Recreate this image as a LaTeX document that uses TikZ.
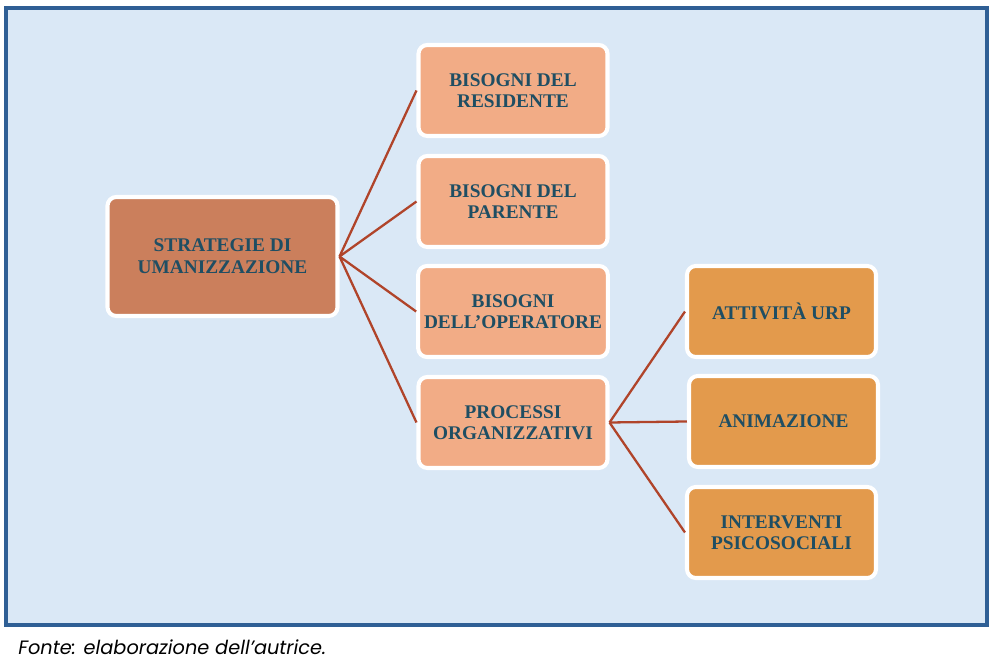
\documentclass[tikz,border=0pt]{standalone}
\usepackage{fontspec}
\setmainfont{Liberation Serif}
\newfontfamily\captionfont{Poppins}
\usetikzlibrary{positioning}

\definecolor{framebg}{HTML}{DAE8F6}
\definecolor{frameline}{HTML}{2F5F95}
\definecolor{rootfill}{HTML}{CB7F5C}
\definecolor{needfill}{HTML}{F2AC86}
\definecolor{procfill}{HTML}{E39A4C}
\definecolor{boxtext}{HTML}{1F4E63}
\definecolor{linkline}{HTML}{B0442A}

\begin{document}
\begin{tikzpicture}[
  root/.style={draw=white,line width=2.3pt,fill=rootfill,rounded corners=5pt,
    align=center,minimum width=4.6cm,minimum height=2.38cm,text=boxtext,
    font=\fontsize{11}{12.5}\selectfont\bfseries},
  need/.style={draw=white,line width=2.3pt,fill=needfill,rounded corners=5pt,
    align=center,minimum width=3.78cm,minimum height=1.82cm,text=boxtext,
    font=\fontsize{11}{12}\selectfont\bfseries},
  proc/.style={need,fill=procfill},
  every edge/.style={draw=linkline,line width=1.3pt}
]
\useasboundingbox (0,0) rectangle (19.86,-13.32);
\draw[frameline,line width=2pt,fill=framebg] (0.12,-0.16) rectangle (19.74,-12.5);

\node[root] (strat) at (4.45,-5.13)
 {STRATEGIE DI\\UMANIZZAZIONE};

\node[need] (resid) at (10.26,-1.81)
 {BISOGNI DEL\\RESIDENTE};
\node[need] (paren) at (10.26,-4.03)
 {BISOGNI DEL\\PARENTE};
\node[need] (oper) at (10.26,-6.23)
 {BISOGNI\\DELL’OPERATORE};
\node[need] (proces) at (10.26,-8.45)
 {PROCESSI\\ORGANIZZATIVI};

\node[proc] (urp) at (15.63,-6.23)
 {ATTIVITÀ URP};
\node[proc] (anim) at (15.67,-8.43)
 {ANIMAZIONE};
\node[proc] (psico) at (15.63,-10.65)
 {INTERVENTI\\PSICOSOCIALI};

\path (strat.east) edge (resid.west)
      (strat.east) edge (paren.west)
      (strat.east) edge (oper.west)
      (strat.east) edge (proces.west)
      (proces.east) edge (urp.west)
      (proces.east) edge (anim.west)
      (proces.east) edge (psico.west);

\node[anchor=base west,inner sep=0pt,font=\captionfont\itshape\fontsize{11}{12}\selectfont]
 (fonte) at (0.36,-13.1) {Fonte: elaborazione dell’autrice.};
\end{tikzpicture}
\end{document}
